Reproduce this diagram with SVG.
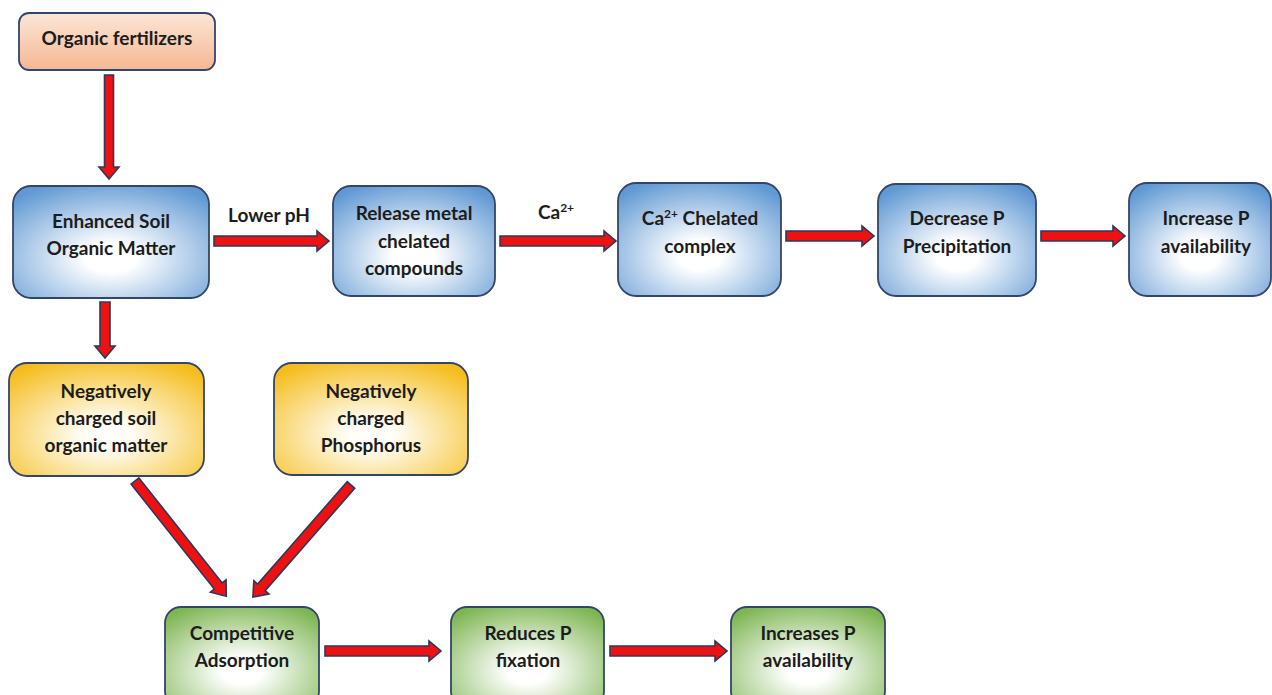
<svg xmlns="http://www.w3.org/2000/svg" width="1272" height="695" viewBox="0 0 1272 695">
<style>
text{font-family:Lato,"Open Sans","Liberation Sans",sans-serif;font-weight:bold;font-size:19px;fill:#1c1c1c;text-anchor:middle}
.box{stroke:#34456a;stroke-width:1.8}
.blue{fill:url(#gBlue)}
.yel{fill:url(#gYel)}
.grn{fill:url(#gGrn)}
.arr{fill:#ee1111;stroke:#2b3a5c;stroke-width:1.6;stroke-linejoin:miter}
</style>
<defs>
<linearGradient id="gPeach" x1="0" y1="0" x2="0" y2="1">
<stop offset="0" stop-color="#fce6d8"/>
<stop offset="1" stop-color="#f4b792"/>
</linearGradient>
<radialGradient id="gBlue" cx="0.5" cy="0.64" r="0.72">
<stop offset="0" stop-color="#ffffff"/>
<stop offset="0.18" stop-color="#ffffff"/>
<stop offset="1" stop-color="#5f98d3"/>
</radialGradient>
<radialGradient id="gYel" cx="0.5" cy="0.64" r="0.72">
<stop offset="0" stop-color="#ffffff"/>
<stop offset="0.18" stop-color="#fffdf4"/>
<stop offset="1" stop-color="#f5bd1c"/>
</radialGradient>
<radialGradient id="gGrn" cx="0.5" cy="0.64" r="0.72">
<stop offset="0" stop-color="#ffffff"/>
<stop offset="0.18" stop-color="#ffffff"/>
<stop offset="1" stop-color="#7fb654"/>
</radialGradient>
</defs>
<rect width="1272" height="695" fill="#ffffff"/>

<g id="connectors">
<path class="arr" d="M0,-4.5 H92 V-10 L104,0 L92,10 V4.5 H0 Z" transform="translate(109,75) rotate(90)"/>
<path class="arr" d="M0,-5 H44 V-10 L56,0 L44,10 V5 H0 Z" transform="translate(105,302) rotate(90)"/>
<path class="arr" d="M0,-5 H103 V-10 L115,0 L103,10 V5 H0 Z" transform="translate(214,241)"/>
<path class="arr" d="M0,-5 H104 V-10 L116,0 L104,10 V5 H0 Z" transform="translate(500,241)"/>
<path class="arr" d="M0,-5 H76 V-10 L88,0 L76,10 V5 H0 Z" transform="translate(786,236)"/>
<path class="arr" d="M0,-5 H72 V-10 L84,0 L72,10 V5 H0 Z" transform="translate(1041,236)"/>
<path class="arr" d="M0,-5 H104 V-10 L116,0 L104,10 V5 H0 Z" transform="translate(325,651)"/>
<path class="arr" d="M0,-5 H105 V-10 L117,0 L105,10 V5 H0 Z" transform="translate(610,651)"/>
<path class="arr" d="M0,-5 H134 V-10 L147,0 L134,10 V5 H0 Z" transform="translate(135,481) rotate(51.6)"/>
<path class="arr" d="M0,-5 H136 V-10 L149,0 L136,10 V5 H0 Z" transform="translate(351,485) rotate(131.2)"/>
</g>

<g id="n-organic-fertilizers">
<rect class="box" x="19" y="13" width="196" height="57" rx="10" fill="url(#gPeach)"/>
<text x="117" y="45">Organic fertilizers</text>
</g>

<g id="n-enhanced-som">
<rect class="box blue" x="13" y="186" width="196" height="112" rx="18"/>
<text x="111" y="228">Enhanced Soil</text>
<text x="111" y="255">Organic Matter</text>
</g>

<g id="l-lower-ph"><text x="269" y="222">Lower pH</text></g>
<g id="l-ca"><text x="556" y="219">Ca<tspan dy="-7" font-size="12">2+</tspan></text></g>

<g id="n-release-metal">
<rect class="box blue" x="333" y="186" width="162" height="110" rx="18"/>
<text x="414" y="220">Release metal</text>
<text x="414" y="248">chelated</text>
<text x="414" y="275">compounds</text>
</g>

<g id="n-ca-chelated">
<rect class="box blue" x="618" y="183" width="163" height="113" rx="18"/>
<text x="700" y="225">Ca<tspan dy="-7" font-size="12">2+</tspan><tspan dy="7"> Chelated</tspan></text>
<text x="700" y="253">complex</text>
</g>

<g id="n-decrease-p">
<rect class="box blue" x="878" y="184" width="158" height="112" rx="18"/>
<text x="957" y="225">Decrease P</text>
<text x="957" y="253">Precipitation</text>
</g>

<g id="n-increase-p">
<rect class="box blue" x="1129" y="183" width="142" height="113" rx="18"/>
<text x="1206" y="225">Increase P</text>
<text x="1206" y="253">availability</text>
</g>

<g id="n-neg-som">
<rect class="box yel" x="9" y="363" width="195" height="113" rx="18"/>
<text x="106" y="398">Negatively</text>
<text x="106" y="425">charged soil</text>
<text x="106" y="452">organic matter</text>
</g>

<g id="n-neg-p">
<rect class="box yel" x="274" y="363" width="194" height="112" rx="18"/>
<text x="371" y="398">Negatively</text>
<text x="371" y="425">charged</text>
<text x="371" y="452">Phosphorus</text>
</g>

<g id="n-competitive">
<rect class="box grn" x="165" y="607" width="154" height="100" rx="16"/>
<text x="242" y="640">Competitive</text>
<text x="242" y="667">Adsorption</text>
</g>

<g id="n-reduces-p">
<rect class="box grn" x="451" y="607" width="153" height="100" rx="16"/>
<text x="528" y="640">Reduces P</text>
<text x="528" y="667">fixation</text>
</g>

<g id="n-increases-p">
<rect class="box grn" x="731" y="607" width="154" height="100" rx="16"/>
<text x="808" y="640">Increases P</text>
<text x="808" y="667">availability</text>
</g>
</svg>
